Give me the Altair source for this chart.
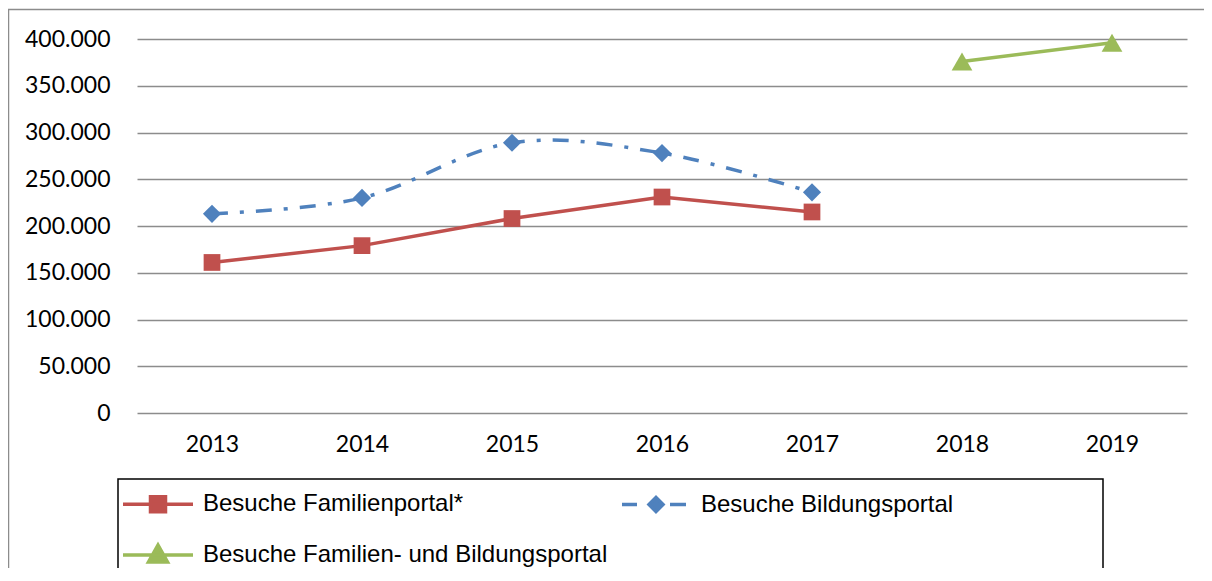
import altair as alt
import pandas as pd

# ---------------- data ----------------
years = ["2013", "2014", "2015", "2016", "2017", "2018", "2019"]
series = [
    "Besuche Familienportal*",
    "Besuche Bildungsportal",
    "Besuche Familien- und Bildungsportal",
]
familienportal = [161000, 179000, 208000, 231000, 215000, None, None]
bildungsportal = [213000, 230000, 289000, 278000, 236000, None, None]
kombiportal = [None, None, None, None, None, 376000, 396000]
y_ticks = [0, 50000, 100000, 150000, 200000, 250000, 300000, 350000, 400000]

colors = ["#C0504D", "#4F81BD", "#9BBB59"]

rows = []
for name, vals in zip(series, [familienportal, bildungsportal, kombiportal]):
    for yr, v in zip(years, vals):
        if v is not None:
            rows.append({"Jahr": yr, "Serie": name, "Wert": v})
df = pd.DataFrame(rows)

# legend symbols: line + marker drawn as one custom path (1 unit = 10 px at size 400)
legend_paths = [
    "M-3.5,0H3.5M-0.75,-0.75H0.75V0.75H-0.75Z",
    "M-3.4,0H-1.9M1.4,0H3.0M0,-0.7L0.7,0L0,0.7L-0.7,0Z",
    "M-3.5,0H3.5M0,-1.0L0.95,0.7H-0.95Z",
]

x_enc = alt.X(
    "Jahr:O",
    scale=alt.Scale(domain=years, padding=0.5),
    axis=alt.Axis(
        title=None, labelAngle=0, ticks=False, domain=False,
        labelFont="Lato", labelFontSize=23, labelColor="black", labelPadding=20,
    ),
)
y_enc = alt.Y(
    "Wert:Q",
    scale=alt.Scale(domain=[0, 400000], nice=False),
    axis=alt.Axis(
        title=None, values=y_ticks, ticks=False, domain=False,
        labelFont="Lato", labelFontSize=23, labelColor="black", labelPadding=27,
        labelExpr="replace(format(datum.value, ','), ',', '.')",
        grid=True, gridColor="#8C8C8C", gridWidth=1.5,
    ),
)

layers = []

# outer chart border and legend box (decoration)
deco = pd.DataFrame({"k": [0]})
layers.append(
    alt.Chart(deco).mark_rect(fill=None, stroke="#8C8C8C", strokeWidth=1.5).encode(
        x=alt.value(-128.5), x2=alt.value(1200), y=alt.value(-29.5), y2=alt.value(700)
    )
)
layers.append(
    alt.Chart(deco).mark_rect(fill=None, stroke="black", strokeWidth=1.5).encode(
        x=alt.value(-19), x2=alt.value(966), y=alt.value(440), y2=alt.value(532)
    )
)

styles = [
    dict(shape="square", size=280, line={}),
    dict(shape="diamond", size=330, line={"strokeDash": [16, 12, 4, 12], "interpolate": "cardinal"}),
    dict(shape="triangle-up", size=430, line={}),
]

for name, col, st in zip(series, colors, styles):
    base = alt.Chart(df).transform_filter(alt.datum.Serie == name)
    layers.append(
        base.mark_line(color=col, strokeWidth=3.5, **st["line"]).encode(x=x_enc, y=y_enc)
    )
    layers.append(
        base.mark_point(
            filled=True, color=col, shape=st["shape"], size=st["size"], opacity=1, strokeWidth=0
        ).encode(x=x_enc, y=y_enc)
    )

# legend-only layer (no visible data)
legend = alt.Legend(
    title=None, orient="none", legendX=9, legendY=453, columns=2, values=series,
    direction="horizontal",
    columnPadding=7, rowPadding=19, labelFont="Liberation Sans", labelFontSize=24,
    labelColor="black", labelLimit=0, labelOffset=33, symbolSize=400,
    symbolStrokeWidth=3.5, padding=0,
)
layers.append(
    alt.Chart(df).transform_filter("datum.Wert < 0").mark_point(
        filled=True, opacity=1, size=400, strokeWidth=3.5
    ).encode(
        x=x_enc, y=y_enc,
        fill=alt.Fill("Serie:N", scale=alt.Scale(domain=series, range=colors), legend=legend),
        stroke=alt.Stroke("Serie:N", scale=alt.Scale(domain=series, range=colors), legend=legend),
        shape=alt.Shape("Serie:N", scale=alt.Scale(domain=series, range=legend_paths), legend=legend),
    )
)

chart = alt.layer(*layers).properties(
    width=1050,
    height=374,
    autosize=alt.AutoSizeParams(type="none"),
    padding={"left": 129, "top": 31, "right": 17, "bottom": 155},
    background="white",
).configure_view(stroke=None)

chart.save("out.html", embed_options={"renderer": "svg", "actions": False})
